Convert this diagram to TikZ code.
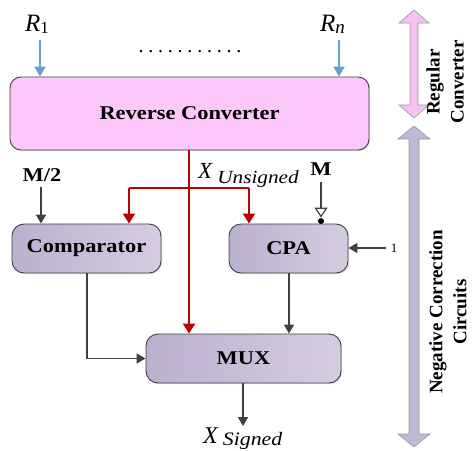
\documentclass[tikz,border=0pt]{standalone}
\usepackage{fontspec}
\setmainfont{Liberation Serif}
\newfontfamily\wfont[FakeStretch=1.15]{Liberation Serif}
\usetikzlibrary{arrows.meta,shadows,calc}
\definecolor{pinkfill}{RGB}{252,200,252}
\definecolor{purL}{RGB}{186,177,207}
\definecolor{purR}{RGB}{212,205,225}
\definecolor{dgray}{RGB}{64,64,64}
\definecolor{redl}{RGB}{192,0,0}
\definecolor{bluel}{RGB}{106,157,208}
\definecolor{pinkarr}{RGB}{247,192,242}
\definecolor{grayarr}{RGB}{192,184,212}
\tikzset{
  boxlabel/.style={font=\wfont\bfseries\fontsize{19.5}{22}\selectfont},
  pinkbox/.style={draw=dgray, line width=0.9pt, rounded corners=11pt, fill=pinkfill, boxlabel,
    drop shadow={shadow xshift=1.2pt, shadow yshift=-1.2pt, opacity=0.25}},
  purbox/.style={draw=dgray, line width=0.9pt, rounded corners=12pt, left color=purL, right color=purR, boxlabel,
    drop shadow={shadow xshift=1.2pt, shadow yshift=-1.2pt, opacity=0.25}},
  darkarr/.style={draw=dgray, line width=1.6pt, -{Triangle[length=9pt,width=10pt]}},
  redarr/.style={draw=redl, line width=2pt, -{Triangle[length=10pt,width=12pt]}},
  redline/.style={draw=redl, line width=2pt},
  bluearr/.style={draw=bluel, line width=2pt, -{Triangle[length=10pt,width=11pt]}},
  sidelabel/.style={font=\bfseries\fontsize{19}{24}\selectfont, rotate=90, align=center},
}
\begin{document}
\begin{tikzpicture}[x=1pt,y=-1pt]
\useasboundingbox[fill=white] (0,0) rectangle (476,450);

% boxes
\node[pinkbox, minimum width=359pt, minimum height=73pt] (rc) at (189.5,113.5) {Reverse Converter};
\node[purbox, minimum width=149pt, minimum height=49pt] (cmp) at (86.5,248.5) {Comparator};
\node[purbox, minimum width=119pt, minimum height=49pt] (cpa) at (288.5,248.5) {CPA};
\node[purbox, minimum width=195pt, minimum height=49pt] (mux) at (243.5,358.5) {MUX};

% input labels
\node[anchor=base west, inner sep=0pt] (r1) at (25,31) {{\fontsize{25}{25}\selectfont\itshape R}{\fontsize{17}{17}\selectfont\raisebox{-2pt}{1}}};
\node[anchor=base west, inner sep=0pt] (rn) at (320,31) {{\fontsize{25}{25}\selectfont\itshape R}{\fontsize{19}{19}\selectfont\itshape\raisebox{-2pt}{n}}};
\node[anchor=base, inner sep=0pt, font=\fontsize{20}{20}\selectfont\addfontfeature{LetterSpace=24}] (dots) at (190,52) {...........};
\coordinate (a1) at (40,40);
\coordinate (an) at (339,40);
\draw[bluearr] (a1) -- (a1 |- rc.north);
\draw[bluearr] (an) -- (an |- rc.north);

% X unsigned
\node[anchor=base west, inner sep=0pt] (xu) at (198,178) {{\fontsize{23}{23}\selectfont\itshape X}\hspace{5pt}{\wfont\itshape\fontsize{18.5}{18.5}\selectfont\raisebox{-5pt}{Unsigned}}};

% red connections
\coordinate (rsplit) at (189,188);
\coordinate (rl) at (129,188);
\coordinate (rr) at (249,188);
\draw[redarr] (rc.south -| rsplit) -- (rsplit |- mux.north);
\draw[redline] (rl) -- (rr);
\draw[redarr] (rl) -- (rl |- cmp.north);
\draw[redarr] (rr) -- (rr |- cpa.north);

% M/2
\node[anchor=base, inner sep=0pt, boxlabel] (m2) at (42,181) {M/2};
\coordinate (m2a) at (41,187);
\draw[darkarr] (m2a) -- (m2a |- cmp.north);

% M
\node[anchor=base, inner sep=0pt, boxlabel] (m) at (321,175) {M};
\coordinate (ma) at (321,182);
\draw[draw=dgray, line width=1.6pt, -{Triangle[open,length=10pt,width=13pt,line width=1.2pt]}, shorten >=6pt] (ma) -- (ma |- cpa.north);
\fill[black] ([yshift=2.5pt]ma |- cpa.north) circle (3pt);

% 1
\node[inner sep=0pt, font=\fontsize{13}{13}\selectfont] (one) at (394,248) {1};
\draw[darkarr] ([xshift=-5pt]one.west) -- (cpa.east |- one.west);

% comparator to mux
\coordinate (cd) at (87,273);
\draw[darkarr] (cmp.south -| cd) |- (mux.west);
% cpa to mux
\coordinate (cpd) at (289,273);
\draw[darkarr] (cpa.south -| cpd) -- (cpd |- mux.north);

% output
\node[anchor=base west, inner sep=0pt] (xs) at (203,443) {{\fontsize{24}{24}\selectfont\itshape X}\hspace{5pt}{\wfont\itshape\fontsize{19}{19}\selectfont\raisebox{-2pt}{Signed}}};
\coordinate (mo) at (243,383);
\draw[darkarr] (mux.south -| mo) -- (243,426);

% side arrows
\path[draw=gray!80, line width=0.6pt, fill=pinkarr] (414,10) -- (429,23) -- (418,23) -- (418,105) -- (429,105) -- (414,118) -- (399,105) -- (410,105) -- (410,23) -- (399,23) -- cycle;
\path[draw=gray!80, line width=0.6pt, fill=grayarr] (414,126) -- (430,139) -- (419,139) -- (419,434) -- (430,434) -- (414,447) -- (398,434) -- (409,434) -- (409,139) -- (398,139) -- cycle;
\node[sidelabel] (lab1) at (445,82) {Regular\\Converter};
\node[sidelabel] (lab2) at (448,312) {Negative Correction\\Circuits};
\end{tikzpicture}
\end{document}
